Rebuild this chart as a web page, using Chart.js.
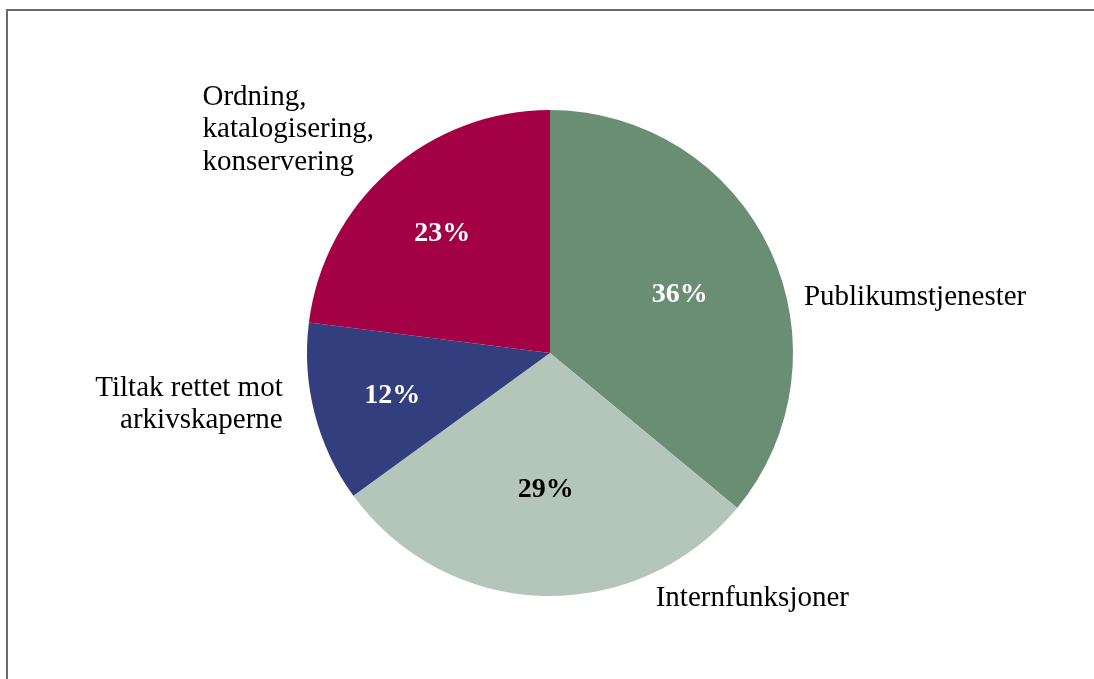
<!DOCTYPE html>
<html>
<head>
<meta charset="utf-8">
<script src="https://cdn.jsdelivr.net/npm/chart.js@4/dist/chart.umd.min.js"></script>
<style>
  html, body { margin: 0; padding: 0; background: #fff; }
  body { width: 1094px; height: 679px; overflow: hidden; position: relative; }
  #frame { position: absolute; left: 6px; top: 9px; width: 1200px; height: 800px; border: 2px solid #6b6b6b; }
  #wrap { position: absolute; left: 0; top: 0; width: 1094px; height: 679px; }
</style>
</head>
<body>
<div id="frame"></div>
<div id="wrap"><canvas id="pie"></canvas></div>
<script>
const labels = [
    ['Publikumstjenester'],
    ['Internfunksjoner'],
    ['Tiltak rettet mot', 'arkivskaperne'],
    ['Ordning,', 'katalogisering,', 'konservering']
];
const values = [36, 29, 12, 23];
const colors = ['#6a8e74', '#b4c6ba', '#333e7e', '#a40046'];
const pctColors = ['#ffffff', '#000000', '#ffffff', '#ffffff'];

// where the labels sit, in units of the pie radius from its centre
const pctRadius = [0.59, 0.55, 0.67, 0.67];
const namePlace = [
    { fx: 1.045, fy: -0.23, align: 'left' },
    { fx: 0.435, fy: 1.01, align: 'left' },
    { fx: -1.10, fy: 0.21, align: 'right' },
    { fx: -1.43, fy: -0.92, align: 'left' }
];

const pieLabels = {
    id: 'pieLabels',
    afterDraw(chart) {
        const ctx = chart.ctx;
        const arcs = chart.getDatasetMeta(0).data;
        ctx.save();
        ctx.textBaseline = 'alphabetic';
        arcs.forEach((arc, i) => {
            const mid = (arc.startAngle + arc.endAngle) / 2;
            const r = arc.outerRadius * pctRadius[i];
            ctx.font = 'bold 28px "Liberation Serif", serif';
            ctx.fillStyle = pctColors[i];
            ctx.textAlign = 'center';
            ctx.fillText(values[i] + '%', arc.x + Math.cos(mid) * r, arc.y + Math.sin(mid) * r + 10);

            const p = namePlace[i];
            const lines = labels[i];
            const lh = 32.5;
            ctx.font = '29px "Liberation Serif", serif';
            ctx.fillStyle = '#000';
            ctx.textAlign = p.align;
            const x0 = arc.x + p.fx * arc.outerRadius;
            const y0 = arc.y + p.fy * arc.outerRadius - (lines.length - 1) * lh / 2 + 8;
            lines.forEach((t, k) => ctx.fillText(t, x0, y0 + k * lh));
        });
        ctx.restore();
    }
};

new Chart(document.getElementById('pie'), {
    type: 'pie',
    data: {
        labels: labels.map(l => l.join(' ')),
        datasets: [{
            data: values,
            backgroundColor: colors,
            borderWidth: 0,
            hoverOffset: 0
        }]
    },
    options: {
        responsive: true,
        maintainAspectRatio: false,
        animation: false,
        layout: { padding: { top: 110, bottom: 83, left: 307, right: 301 } },
        plugins: {
            legend: { display: false },
            tooltip: { enabled: false }
        }
    },
    plugins: [pieLabels]
});
</script>
</body>
</html>
